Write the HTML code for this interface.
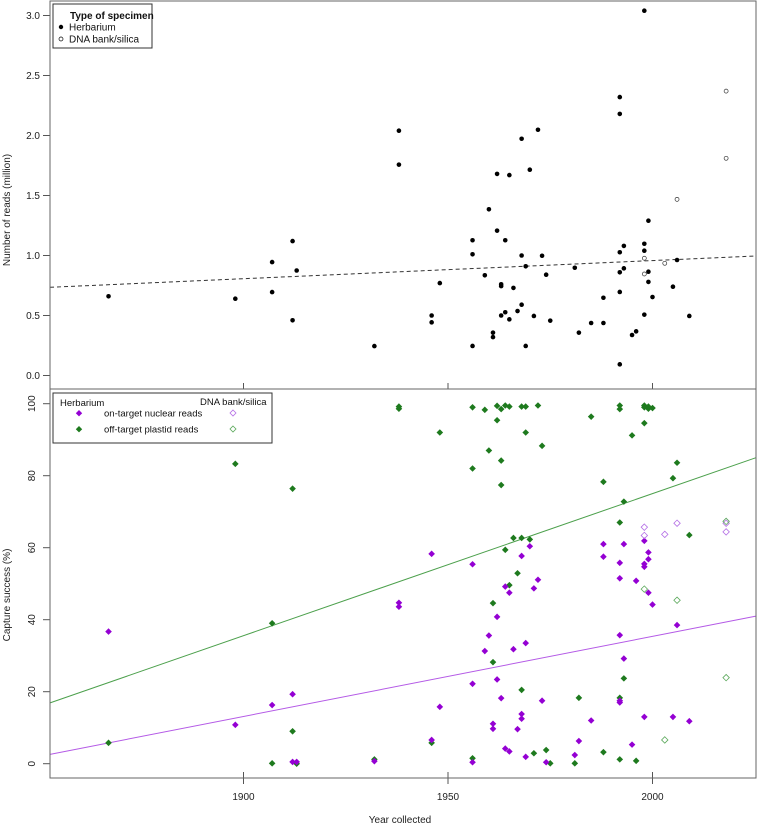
<!DOCTYPE html>
<html><head><meta charset="utf-8"><style>
body{margin:0;background:#fff}
svg{display:block;font-family:"Liberation Sans",Arial,sans-serif}
</style></head><body>
<svg id="chart" width="758" height="826" viewBox="0 0 758 826" xmlns="http://www.w3.org/2000/svg">
<rect x="0" y="0" width="758" height="826" fill="#fff"/>
<g id="marks"></g>
<rect x="50" y="1" width="706" height="388" fill="none" stroke="#666" stroke-width="1"/>
<rect x="50" y="389" width="706" height="389" fill="none" stroke="#666" stroke-width="1"/>
<text transform="translate(10,210) rotate(-90)" text-anchor="middle" font-size="10" fill="#222">Number of reads (million)</text>
<text transform="translate(10,595) rotate(-90)" text-anchor="middle" font-size="10" fill="#222">Capture success (%)</text>
<text x="400" y="823" text-anchor="middle" font-size="10" fill="#222">Year collected</text>
<g>
<rect x="53" y="4" width="99" height="44" fill="#fff" stroke="#333" stroke-width="1"/>
<text x="70" y="19" font-size="10" font-weight="bold" fill="#111">Type of specimen</text>
<circle cx="61" cy="27" r="2.2" fill="#000"/>
<text x="69" y="30.5" font-size="10" fill="#111">Herbarium</text>
<circle cx="61" cy="39" r="2" fill="#fff" stroke="#000" stroke-width="0.7"/>
<text x="69" y="42.5" font-size="10" fill="#111">DNA bank/silica</text>
</g>
<g>
<rect x="53" y="393" width="219" height="50" fill="#fff" stroke="#333" stroke-width="1"/>
<text x="60" y="406" font-size="9.5" fill="#111">Herbarium</text>
<text x="200" y="405" font-size="9.5" fill="#111">DNA bank/silica</text>
<path d="M79,410 l3.2,3.2 l-3.2,3.2 l-3.2,-3.2z" fill="#9400d3"/>
<text x="104" y="416.5" font-size="9.5" fill="#111">on-target nuclear reads</text>
<path d="M233,410 l3,3 l-3,3 l-3,-3z" fill="none" stroke="#b46ee6" stroke-width="0.8"/>
<path d="M79,426 l3.2,3.2 l-3.2,3.2 l-3.2,-3.2z" fill="#1e7a1e"/>
<text x="104" y="432.5" font-size="9.5" fill="#111">off-target plastid reads</text>
<path d="M233,426 l3,3 l-3,3 l-3,-3z" fill="none" stroke="#5aa85a" stroke-width="0.8"/>
</g>
</svg>
<script>
// ---- data ----
const topYTicks = [0.0,0.5,1.0,1.5,2.0,2.5,3.0];
const topYTickLabels = ["0.0","0.5","1.0","1.5","2.0","2.5","3.0"];
const bottomYTicks = [0,20,40,60,80,100];
const bottomYTickLabels = ["0","20","40","60","80","100"];
const xTicks = [1900,1950,2000];
const xTickLabels = ["1900","1950","2000"];
const herbYears = [1867,1898,1907,1907,1912,1912,1913,1932,1938,1938,1946,1946,1948,1956,1956,1956,1959,1960,1961,1961,1962,1962,1963,1963,1963,1964,1964,1965,1965,1966,1967,1968,1968,1968,1969,1969,1970,1971,1972,1973,1974,1975,1981,1982,1985,1988,1988,1992,1992,1992,1992,1992,1992,1993,1993,1995,1996,1998,1998,1998,1998,1999,1999,1999,2000,2005,2006,2009];
const herbReads = [0.66,0.64,0.945,0.695,1.12,0.46,0.875,0.245,2.04,1.757,0.50,0.443,0.77,1.127,1.01,0.246,0.835,1.385,0.357,0.32,1.68,1.207,0.76,0.745,0.50,1.127,0.527,1.67,0.468,0.73,0.537,1.973,1.0,0.59,0.91,0.246,1.715,0.496,2.048,0.998,0.84,0.457,0.898,0.357,0.4375,0.648,0.4375,2.32,2.18,1.027,0.86,0.696,0.093,1.08,0.893,0.3375,0.368,3.04,1.098,1.04,0.507,1.29,0.865,0.78,0.654,0.74,0.9625,0.496];
const bankYears = [1998,1998,2003,2006,2018,2018];
const bankReads = [0.977,0.846,0.935,1.468,2.37,1.81];
const readsFitYears = [1852.7,2025.3];
const readsFitValues = [0.735,0.996];
const nucYears = [1867,1898,1907,1912,1912,1913,1932,1938,1938,1946,1946,1948,1956,1956,1956,1959,1960,1961,1961,1962,1962,1963,1964,1964,1965,1965,1966,1967,1968,1968,1968,1969,1969,1970,1971,1972,1973,1974,1981,1982,1985,1988,1988,1992,1992,1992,1992,1992,1993,1993,1995,1996,1998,1998,1998,1998,1999,1999,1999,2000,2005,2006,2009];
const nucValues = [36.7,10.8,16.3,19.3,0.5,0.5,0.7,44.7,43.6,58.3,6.6,15.8,55.4,22.2,0.4,31.3,35.6,11.1,9.7,40.8,23.4,18.2,49.2,4.2,47.5,3.4,31.8,9.6,57.7,13.8,12.5,33.5,1.9,60.4,48.7,51.1,17.5,0.4,2.4,6.3,12,61,57.5,55.8,51.5,35.7,17.5,17,61,29.2,5.3,50.8,61.9,55.5,54.7,13,58.7,56.8,47.5,44.2,13,38.5,11.8];
const plaYears = [1867,1898,1907,1907,1912,1912,1913,1932,1938,1938,1948,1956,1956,1959,1960,1962,1962,1963,1963,1963,1964,1965,1968,1969,1969,1972,1973,1985,1988,1992,1992,1995,1998,1998,1998,1999,1999,2000,2005,2006,1993,1992,1966,1968,1970,1964,1967,1965,1961,2009,1961,1993,1968,1982,1992,1946,1956,1971,1974,1975,1981,1988,1992,1996];
const plaValues = [5.8,83.3,39,0.1,76.4,9,0,1.2,99.2,98.6,92,99,82,98.3,87,99.4,95.4,98.5,84.2,77.4,99.5,99.2,99.2,99.2,92,99.5,88.3,96.4,78.3,99.5,98.5,91.2,99.5,94.6,99,98.6,99.2,98.8,79.3,83.6,72.8,67,62.7,62.7,62.3,59.4,52.9,49.6,44.6,63.5,28.2,23.7,20.5,18.3,18.3,5.8,1.5,2.9,3.8,0.1,0.1,3.2,1.2,0.8];
const bankNucYears = [1998,1998,2003,2006,2018,2018];
const bankNucValues = [65.7,63.4,63.7,66.8,66.8,64.4];
const bankPlaYears = [1998,2003,2006,2018,2018];
const bankPlaValues = [48.5,6.6,45.4,23.9,67.3];
const nucFitYears = [1852.7,2025.3];
const nucFitValues = [2.6,41];
const plaFitYears = [1852.7,2025.3];
const plaFitValues = [16.9,85];

// ---- axes ----
const xs = y => 243.5 + (y - 1900) * 4.09;
const ysTop = v => 375.5 - v * 120;
const ysBot = v => 763.7 - v * 3.6;
const NS = "http://www.w3.org/2000/svg";
const g = document.getElementById('marks');
function mk(tag, attrs){const e=document.createElementNS(NS,tag);for(const k in attrs)e.setAttribute(k,attrs[k]);g.appendChild(e);return e;}

topYTicks.forEach((t,i)=>{
  const y=ysTop(t);
  const l=mk('line',{x1:43,x2:50,y1:y,y2:y,stroke:'#555'});
  
  
  const tx=mk('text',{x:40,y:y+3.5,'text-anchor':'end','font-size':10,fill:'#222'});
  tx.textContent=topYTickLabels[i];
  
  
});
bottomYTicks.forEach((t,i)=>{
  const y=ysBot(t);
  const l=mk('line',{x1:43,x2:50,y1:y,y2:y,stroke:'#555'});
  
  
  const tx=mk('text',{transform:`translate(35,${y}) rotate(-90)`,'text-anchor':'middle','font-size':10,fill:'#222'});
  tx.textContent=bottomYTickLabels[i];
  
  
});
xTicks.forEach((t,i)=>{
  const x=xs(t);
  const l=mk('line',{x1:x,x2:x,y1:383,y2:389,stroke:'#555'});
  
  
  const l2=mk('line',{x1:x,x2:x,y1:772,y2:784,stroke:'#555'});
  
  
  const tx=mk('text',{x:x,y:800,'text-anchor':'middle','font-size':10,fill:'#222'});
  tx.textContent=xTickLabels[i];
  
  
});

// fit lines
const f1=mk('line',{x1:xs(readsFitYears[0]),y1:ysTop(readsFitValues[0]),x2:xs(readsFitYears[1]),y2:ysTop(readsFitValues[1]),stroke:'#333','stroke-dasharray':'4,3','stroke-width':1});


const f2=mk('line',{x1:xs(plaFitYears[0]),y1:ysBot(plaFitValues[0]),x2:xs(plaFitYears[1]),y2:ysBot(plaFitValues[1]),stroke:'#4ca04c','stroke-width':1});


const f3=mk('line',{x1:xs(nucFitYears[0]),y1:ysBot(nucFitValues[0]),x2:xs(nucFitYears[1]),y2:ysBot(nucFitValues[1]),stroke:'#b45ae6','stroke-width':1});



// points
herbYears.forEach((yr,i)=>{
  const c=mk('circle',{cx:xs(yr),cy:ysTop(herbReads[i]),r:2.3,fill:'#000'});
  
  
});
bankYears.forEach((yr,i)=>{
  const c=mk('circle',{cx:xs(yr),cy:ysTop(bankReads[i]),r:2,fill:'#fff',stroke:'#333','stroke-width':0.7});
  
  
});
function dia(x,y,r){return `M${x},${y-r} L${x+r},${y} L${x},${y+r} L${x-r},${y}Z`;}
plaYears.forEach((yr,i)=>{
  const p=mk('path',{d:dia(xs(yr),ysBot(plaValues[i]),3.3),fill:'#1e7a1e'});
  
  
});
nucYears.forEach((yr,i)=>{
  const p=mk('path',{d:dia(xs(yr),ysBot(nucValues[i]),3.3),fill:'#9400d3'});
  
  
});
bankNucYears.forEach((yr,i)=>{
  const p=mk('path',{d:dia(xs(yr),ysBot(bankNucValues[i]),3.2),fill:'none',stroke:'#b46ee6','stroke-width':0.8});
  
  
});
bankPlaYears.forEach((yr,i)=>{
  const p=mk('path',{d:dia(xs(yr),ysBot(bankPlaValues[i]),3.2),fill:'none',stroke:'#5aa85a','stroke-width':0.8});
  
  
});
</script>
</body></html>
